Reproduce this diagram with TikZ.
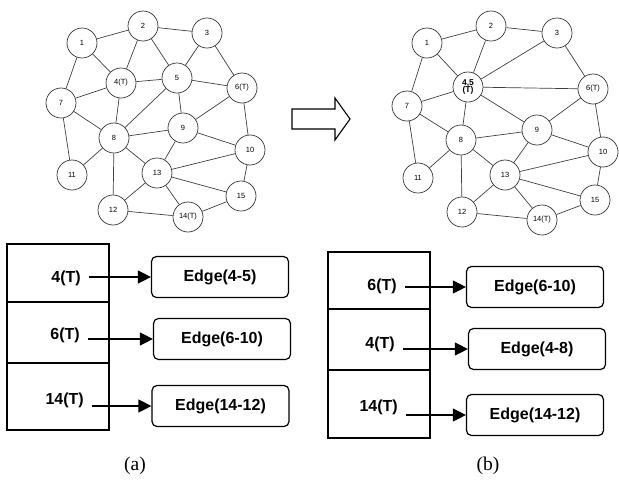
\documentclass[tikz,border=0pt]{standalone}
\usepackage{fontspec}
\setmainfont{Liberation Serif}
\newfontfamily\arialfont{Liberation Sans}
\usetikzlibrary{arrows.meta}

\begin{document}
\begin{tikzpicture}[x=1pt,y=-1pt,
  vtx/.style={circle,draw=black!75,line width=0.75pt,minimum size=30pt,inner sep=0pt,font=\arialfont\fontsize{7.5}{8}\selectfont},
  edge/.style={draw=black!75,line width=0.7pt},
  row/.style={draw,line width=1.3pt,minimum width=102pt,inner sep=0pt},
  key/.style={anchor=east,inner xsep=8pt,inner ysep=0pt,font=\arialfont\bfseries\fontsize{16}{18}\selectfont},
  ebox/.style={draw,rounded corners=5pt,line width=1.2pt,minimum width=137pt,minimum height=41pt,inner sep=0pt,font=\arialfont\bfseries\fontsize{16}{18}\selectfont},
  ptr/.style={-{Triangle[length=13pt,width=13pt]},line width=1.3pt},
  subcap/.style={font=\fontsize{19.5}{22}\selectfont}]
  \useasboundingbox (0,0) rectangle (619,480);
  % graph (a)
  \node[vtx] (a1) at (82,43) {1};
  \node[vtx] (a2) at (143,26) {2};
  \node[vtx] (a3) at (207,33) {3};
  \node[vtx] (a4) at (121,83) {4(T)};
  \node[vtx] (a5) at (177,78) {5};
  \node[vtx] (a6) at (242,88) {6(T)};
  \node[vtx] (a7) at (61,103) {7};
  \node[vtx] (a8) at (114,138) {8};
  \node[vtx] (a9) at (183,128) {9};
  \node[vtx] (a10) at (250,150) {10};
  \node[vtx] (a11) at (72,175) {11};
  \node[vtx] (a12) at (113,210) {12};
  \node[vtx] (a13) at (157,173) {13};
  \node[vtx] (a14) at (188,217) {14(T)};
  \node[vtx] (a15) at (241,196) {15};
  \draw[edge] (a1) -- (a2); \draw[edge] (a2) -- (a3); \draw[edge] (a1) -- (a7); \draw[edge] (a1) -- (a4);
  \draw[edge] (a2) -- (a4); \draw[edge] (a2) -- (a5); \draw[edge] (a3) -- (a5); \draw[edge] (a3) -- (a6);
  \draw[edge] (a4) -- (a5); \draw[edge] (a4) -- (a7); \draw[edge] (a4) -- (a8); \draw[edge] (a5) -- (a6);
  \draw[edge] (a5) -- (a8); \draw[edge] (a5) -- (a9); \draw[edge] (a6) -- (a9); \draw[edge] (a6) -- (a10);
  \draw[edge] (a7) -- (a8); \draw[edge] (a7) -- (a11); \draw[edge] (a8) -- (a9); \draw[edge] (a8) -- (a11);
  \draw[edge] (a8) -- (a12); \draw[edge] (a8) -- (a13); \draw[edge] (a9) -- (a10); \draw[edge] (a9) -- (a13);
  \draw[edge] (a10) -- (a13); \draw[edge] (a10) -- (a15); \draw[edge] (a13) -- (a15); \draw[edge] (a13) -- (a12);
  \draw[edge] (a13) -- (a14); \draw[edge] (a12) -- (a14); \draw[edge] (a14) -- (a15);
  % graph (b)
  \node[vtx] (b1) at (427,43) {1};
  \node[vtx] (b2) at (491,26) {2};
  \node[vtx] (b3) at (557,33) {3};
  \node[vtx,align=center,font=\arialfont\bfseries\fontsize{8.5}{7.5}\selectfont] (b45) at (468,87) {4,5\\(T)};
  \node[vtx] (b6) at (593,89) {6(T)};
  \node[vtx] (b7) at (407,106) {7};
  \node[vtx] (b8) at (461,140) {8};
  \node[vtx] (b9) at (537,130) {9};
  \node[vtx] (b10) at (603,152) {10};
  \node[vtx] (b11) at (418,178) {11};
  \node[vtx] (b12) at (462,212) {12};
  \node[vtx] (b13) at (505,175) {13};
  \node[vtx] (b14) at (542,220) {14(T)};
  \node[vtx] (b15) at (595,200) {15};
  \draw[edge] (b1) -- (b2); \draw[edge] (b2) -- (b3); \draw[edge] (b1) -- (b7); \draw[edge] (b1) -- (b45);
  \draw[edge] (b2) -- (b45); \draw[edge] (b3) -- (b45); \draw[edge] (b3) -- (b6); \draw[edge] (b45) -- (b6);
  \draw[edge] (b45) -- (b7); \draw[edge] (b45) -- (b8); \draw[edge] (b45) -- (b9); \draw[edge] (b6) -- (b9);
  \draw[edge] (b6) -- (b10); \draw[edge] (b7) -- (b8); \draw[edge] (b7) -- (b11); \draw[edge] (b8) -- (b9);
  \draw[edge] (b8) -- (b11); \draw[edge] (b8) -- (b12); \draw[edge] (b8) -- (b13); \draw[edge] (b9) -- (b10);
  \draw[edge] (b9) -- (b13); \draw[edge] (b10) -- (b13); \draw[edge] (b10) -- (b15); \draw[edge] (b13) -- (b15);
  \draw[edge] (b13) -- (b12); \draw[edge] (b13) -- (b14); \draw[edge] (b12) -- (b14); \draw[edge] (b14) -- (b15);
  % hollow arrow between the graphs
  \draw[line width=1.1pt] (292,109) -- (335,109) -- (335,98) -- (350,119) -- (335,140) -- (335,129) -- (292,129) -- cycle;
  % table (a)
  \node[row,minimum height=58pt] (ra1) at (58,273) {};
  \node[row,minimum height=61pt] (ra2) at (58,332.5) {};
  \node[row,minimum height=67pt] (ra3) at (58,396.5) {};
  \node[key] (ka1) at (89,278) {4(T)};
  \node[key] (ka2) at (88,335) {6(T)};
  \node[key] (ka3) at (92,400) {14(T)};
  \node[ebox] (ea1) at (220,277) {Edge(4-5)};
  \node[ebox] (ea2) at (222,339) {Edge(6-10)};
  \node[ebox] (ea3) at (220.5,406) {Edge(14-12)};
  \draw[ptr] (ea1.west -| ka1.east) -- (ea1.west);
  \draw[ptr] (ea2.west -| ka2.east) -- (ea2.west);
  \draw[ptr] (ea3.west -| ka3.east) -- (ea3.west);
  % table (b)
  \node[row,minimum height=57pt] (rb1) at (379,280.5) {};
  \node[row,minimum height=61pt] (rb2) at (379,339.5) {};
  \node[row,minimum height=68pt] (rb3) at (379,404) {};
  \node[key] (kb1) at (405,286) {6(T)};
  \node[key] (kb2) at (403,344) {4(T)};
  \node[key] (kb3) at (406,407) {14(T)};
  \node[ebox] (eb1) at (535,287) {Edge(6-10)};
  \node[ebox] (eb2) at (537,349) {Edge(4-8)};
  \node[ebox] (eb3) at (535,415) {Edge(14-12)};
  \draw[ptr] (eb1.west -| kb1.east) -- (eb1.west);
  \draw[ptr] (eb2.west -| kb2.east) -- (eb2.west);
  \draw[ptr] (eb3.west -| kb3.east) -- (eb3.west);
  % captions
  \node[subcap] (capa) at (135,466) {(a)};
  \node[subcap] (capb) at (488,466) {(b)};
\end{tikzpicture}
\end{document}
